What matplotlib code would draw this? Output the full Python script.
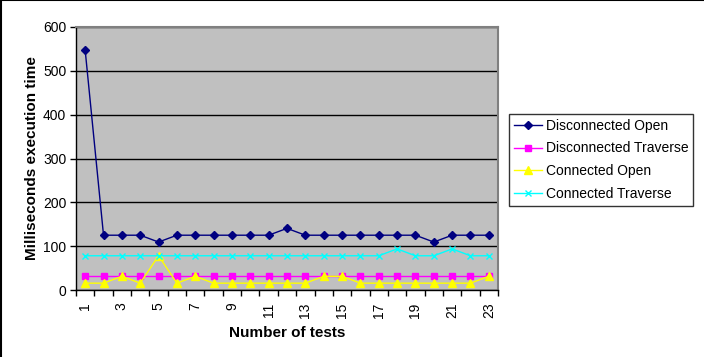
import numpy as np
import matplotlib.pyplot as plt
from matplotlib.lines import Line2D

plt.rcParams['font.family'] = ['Liberation Sans', 'DejaVu Sans']

tests = list(range(1, 24))
disc_open = [546.9, 125, 125, 125, 109.4, 125, 125, 125, 125, 125, 125, 140.6,
             125, 125, 125, 125, 125, 125, 125, 109.4, 125, 125, 125]
disc_trav = [31.25] * 23
conn_open = [15.6, 15.6, 31.25, 15.6, 78.1, 15.6, 31.25, 15.6, 15.6, 15.6, 15.6, 15.6,
             15.6, 31.25, 31.25, 15.6, 15.6, 15.6, 15.6, 15.6, 15.6, 15.6, 31.25]
conn_trav = [78.1, 78.1, 78.1, 78.1, 78.1, 78.1, 78.1, 78.1, 78.1, 78.1, 78.1, 78.1,
             78.1, 78.1, 78.1, 78.1, 78.1, 93.75, 78.1, 78.1, 93.75, 78.1, 78.1]

fig = plt.figure(figsize=(7.04, 3.57), dpi=100)
ax = fig.add_axes([76/704, 1-290/357, 422/704, 263/357])
ax.set_facecolor('#C0C0C0')

ax.plot(tests, disc_open, color='#000080', lw=1, marker='D', ms=4.5, label='Disconnected Open', zorder=3)
ax.plot(tests, disc_trav, color='#FF00FF', lw=1, marker='s', ms=5, label='Disconnected Traverse', zorder=3)
ax.plot(tests, conn_open, color='#FFFF00', lw=1, marker='^', ms=6, label='Connected Open', zorder=3)
ax.plot(tests, conn_trav, color='#00FFFF', lw=1, marker='x', ms=4, mew=1, label='Connected Traverse', zorder=3)

ax.set_xlim(0.5, 23.5)
ax.set_ylim(0, 600)
ax.set_yticks(range(0, 601, 100))
ax.yaxis.grid(True, color='black', lw=1)
ax.set_axisbelow(True)

ax.set_xticks(range(1, 24, 2))
ax.set_xticklabels([str(t) for t in range(1, 24, 2)], rotation=90)
ax.set_xticks(np.arange(0.5, 24, 1), minor=True)
ax.tick_params(axis='x', which='major', length=0, pad=9, labelsize=10)
ax.tick_params(axis='x', which='minor', length=4, width=1, direction='out')
ax.tick_params(axis='y', length=4, width=1, direction='out', labelsize=10, pad=3)

for s in ['left', 'bottom']:
    ax.spines[s].set_color('black')
    ax.spines[s].set_linewidth(1)
for s in ['top', 'right']:
    ax.spines[s].set_color('#808080')
    ax.spines[s].set_linewidth(1.5)

ax.set_xlabel('Number of tests', fontsize=11, fontweight='bold', labelpad=6)
ax.set_ylabel('Milliseconds execution time', fontsize=11, fontweight='bold', labelpad=3)

leg = ax.legend(loc='upper left', bbox_to_anchor=(509/704, 1-114/357),
                bbox_transform=fig.transFigure, fontsize=10, frameon=True,
                fancybox=False, borderaxespad=0, handlelength=2.0,
                handletextpad=0.3, labelspacing=0.62, borderpad=0.35)
leg.get_frame().set_edgecolor('black')
leg.get_frame().set_linewidth(1)

fig.add_artist(Line2D([0, 1], [0.999, 0.999], color='black', lw=1.5, transform=fig.transFigure))
fig.add_artist(Line2D([0.001, 0.001], [0, 1], color='black', lw=1.5, transform=fig.transFigure))

fig.savefig('out.png', dpi=100)
